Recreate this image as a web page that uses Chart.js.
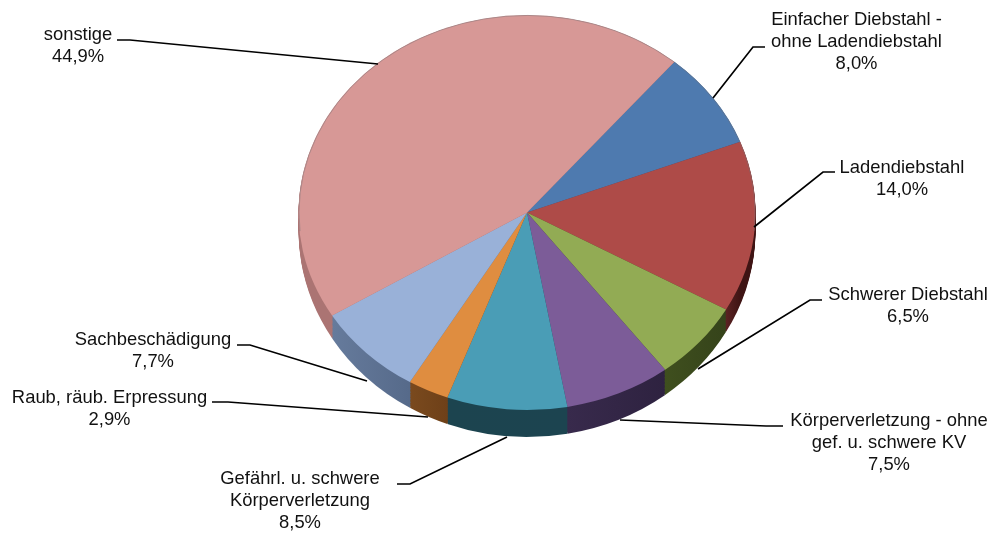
<!DOCTYPE html>
<html>
<head>
<meta charset="utf-8">
<title>Pie</title>
<script src="https://cdn.jsdelivr.net/npm/chart.js@4"></script>
<style>
  html, body { margin: 0; padding: 0; background: #fff; }
  canvas { display: block; }
</style>
</head>
<body>
<canvas id="pie" width="994" height="533"></canvas>
<script>
const categories = [
    'Einfacher Diebstahl -\nohne Ladendiebstahl',
    'Ladendiebstahl',
    'Schwerer Diebstahl',
    'Körperverletzung - ohne\ngef. u. schwere KV',
    'Gefährl. u. schwere\nKörperverletzung',
    'Raub, räub. Erpressung',
    'Sachbeschädigung',
    'sonstige'
];
const shares = [8.0, 14.0, 6.5, 7.5, 8.5, 2.9, 7.7, 44.9];

const topColors = ['#4e7aaf', '#ae4b48', '#92ab54', '#7c5c98', '#4a9db6', '#df8d40', '#99b1d8', '#d79896'];
// side wall: left and right colour of each slice
const sideColors = [
    ['#33507a', '#33507a'], ['#5a2222', '#3f1414'], ['#3f4f1e', '#35431a'], ['#382a4c', '#2e2240'],
    ['#1c444f', '#1c4450'], ['#7a4a1e', '#6e4018'], ['#667b9c', '#566a8a'], ['#ab7473', '#9c6564']
];

// where text and leader lines go (text centre x, first baseline y, line points)
const labelLayout = [
    { x: 856.5, y: 25, line: [[713, 98], [753, 47], [765, 47]] },
    { x: 902, y: 173, line: [[754, 227], [823, 172], [835, 172]] },
    { x: 908, y: 300, line: [[698, 369], [810, 300], [822, 300]] },
    { x: 889, y: 426, line: [[620, 420], [766, 426], [783, 426]] },
    { x: 300, y: 484, line: [[507, 437], [410, 484], [397, 484]] },
    { x: 109.5, y: 403, line: [[428, 417], [228, 402], [212, 402]] },
    { x: 153, y: 345, line: [[367, 381], [250, 345], [237, 345]] },
    { x: 78, y: 40, line: [[378, 64], [130, 40], [117, 40]] }
];

const centerY = 212.5;
const squash = 197.5 / 228.5;
const wallDepth = 18;
const wallSquash = 206.5 / 228.5;

// squashes the flat pie into an ellipse and paints the side wall under it
const tiltPlugin = {
    id: 'tilt',
    beforeDatasetsDraw(chart) {
        const ctx = chart.ctx;
        const arcs = chart.getDatasetMeta(0).data;
        const cx = arcs[0].x, cy = arcs[0].y;
        const r = arcs[0].outerRadius;

        for (let d = wallDepth; d >= 1; d--) {
            const t = d / wallDepth;
            const sy = squash + (wallSquash - squash) * t;
            ctx.save();
            ctx.translate(cx, centerY + d);
            ctx.scale(1, sy);
            arcs.forEach((arc, i) => {
                const x0 = r * Math.cos(arc.startAngle);
                const x1 = r * Math.cos(arc.endAngle);
                const grad = ctx.createLinearGradient(Math.min(x0, x1), 0, Math.max(x0, x1), 0);
                grad.addColorStop(0, sideColors[i][0]);
                grad.addColorStop(1, sideColors[i][1]);
                ctx.fillStyle = grad;
                ctx.beginPath();
                ctx.moveTo(0, 0);
                ctx.arc(0, 0, r, arc.startAngle, arc.endAngle);
                ctx.closePath();
                ctx.fill();
            });
            ctx.restore();
        }

        ctx.save();
        ctx.translate(cx, centerY);
        ctx.scale(1, squash);
        ctx.translate(-cx, -cy);
    },
    afterDatasetsDraw(chart) {
        const ctx = chart.ctx;
        const arc = chart.getDatasetMeta(0).data[0];
        // thin grey rim along the upper edge
        ctx.strokeStyle = 'rgba(110,110,115,0.45)';
        ctx.lineWidth = 1;
        ctx.beginPath();
        ctx.arc(arc.x, arc.y, arc.outerRadius - 0.5, Math.PI * 0.97, Math.PI * 2.03);
        ctx.stroke();
        ctx.restore();
    },
    afterDraw(chart) {
        const ctx = chart.ctx;
        ctx.save();
        ctx.strokeStyle = '#000';
        ctx.lineWidth = 1.7;
        ctx.fillStyle = '#111';
        ctx.font = '18.4px "Liberation Sans", Arial, sans-serif';
        ctx.textAlign = 'center';
        ctx.textBaseline = 'alphabetic';
        categories.forEach((name, i) => {
            const place = labelLayout[i];
            ctx.beginPath();
            place.line.forEach((p, j) => j ? ctx.lineTo(p[0], p[1]) : ctx.moveTo(p[0], p[1]));
            ctx.stroke();

            const lines = name.split('\n');
            lines.push(shares[i].toFixed(1).replace('.', ',') + '%');
            lines.forEach((text, j) => ctx.fillText(text, place.x, place.y + j * 22));
        });
        ctx.restore();
    }
};

new Chart(document.getElementById('pie').getContext('2d'), {
    type: 'pie',
    data: {
        labels: categories,
        datasets: [{
            data: shares,
            backgroundColor: topColors,
            borderWidth: 0,
            clip: false
        }]
    },
    options: {
        responsive: false,
        animation: false,
        rotation: 40.2,
        layout: { padding: { left: 298.5, right: 238.5, top: 38, bottom: 38 } },
        plugins: {
            legend: { display: false },
            tooltip: { enabled: false }
        }
    },
    plugins: [tiltPlugin]
});
</script>
</body>
</html>
